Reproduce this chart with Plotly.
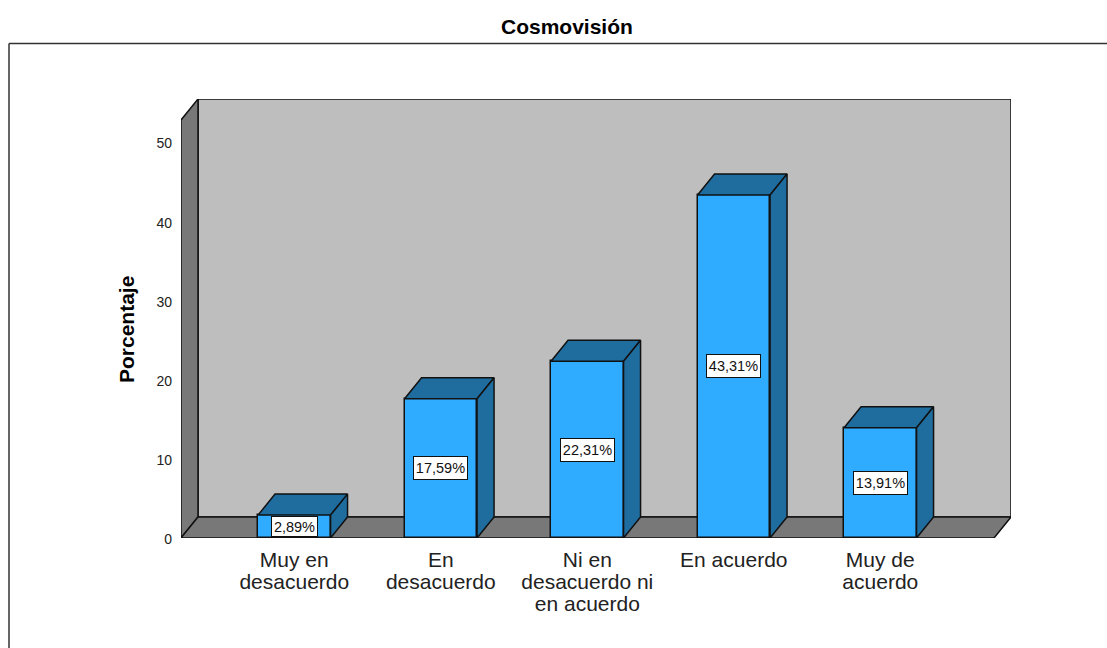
import plotly.graph_objects as go

categories = ["Muy en<br>desacuerdo", "En<br>desacuerdo", "Ni en<br>desacuerdo ni<br>en acuerdo", "En acuerdo", "Muy de<br>acuerdo"]
values = [2.89, 17.59, 22.31, 43.31, 13.91]
labels = ["2,89%", "17,59%", "22,31%", "43,31%", "13,91%"]
y_ticks = [0, 10, 20, 30, 40, 50]

FRONT = "#2FABFF"
DARK = "#1F6C9F"
WALL = "#787878"
BACK = "#BEBEBE"
LINE = "#111111"

W, H = 1107, 648
L, R, T, B = 181, 96, 99, 110
PX_X = 146.5
PX_Y = 7.92
x0 = 294.3
bar_w = 72.5 / PX_X
dx = 17 / PX_X
dy = 21 / PX_Y
xmin = (L - x0) / PX_X
xmax = (W - R - x0) / PX_X
ymax = (H - B - T) / PX_Y
xs = list(range(len(values)))
px = lambda v: (v - L) / (W - L - R)
py = lambda v: (H - B - v) / (H - T - B)


def path(pts):
    return "M " + " L ".join(f"{a},{b}" for a, b in pts) + " Z"


fig = go.Figure()

# Front faces
fig.add_trace(go.Bar(x=xs, y=values, width=bar_w, marker=dict(color=FRONT, line=dict(color=LINE, width=1.5)),
                     hoverinfo="skip", showlegend=False))

# Top and side faces
for x, v in zip(xs, values):
    a, b = x - bar_w / 2, x + bar_w / 2
    fig.add_trace(go.Scatter(x=[a, a + dx, b + dx, b, a], y=[v, v + dy, v + dy, v, v], mode="lines", fill="toself",
                             fillcolor=DARK, line=dict(color=LINE, width=1.5), hoverinfo="skip", showlegend=False))
    fig.add_trace(go.Scatter(x=[b, b + dx, b + dx, b, b], y=[0, dy, v + dy, v, 0], mode="lines", fill="toself",
                             fillcolor=DARK, line=dict(color=LINE, width=1.5), hoverinfo="skip", showlegend=False))

# Walls and floor
wall_line = dict(color=LINE, width=1.5)
shapes = [
    dict(type="path", layer="below", xref="x", yref="y", fillcolor=BACK, line=wall_line,
         path=path([(xmin + dx, dy), (xmin + dx, ymax), (xmax, ymax), (xmax, dy)])),
    dict(type="path", layer="below", xref="x", yref="y", fillcolor=WALL, line=wall_line,
         path=path([(xmin, 0), (xmin + dx, dy), (xmin + dx, ymax), (xmin, ymax - dy)])),
    dict(type="path", layer="below", xref="x", yref="y", fillcolor=WALL, line=wall_line,
         path=path([(xmin, 0), (xmin + dx, dy), (xmax, dy), (xmax - dx, 0)])),
    dict(type="line", xref="paper", yref="paper", line=dict(color="#333333", width=1.5),
         x0=px(9), x1=px(W), y0=py(43.5), y1=py(43.5)),
    dict(type="line", xref="paper", yref="paper", line=dict(color="#333333", width=1.5),
         x0=px(9), x1=px(9), y0=py(43.5), y1=py(H)),
]

annotations = [
    dict(x=x, y=v / 2, text=t, showarrow=False, bgcolor="white", bordercolor=LINE, borderwidth=1,
         width=51 if len(t) > 5 else 43, height=20 if v > 5 else 17,
         font=dict(size=14.5, color="#111111", family="Liberation Sans"))
    for x, v, t in zip(xs, values, labels)
]
annotations.append(dict(xref="paper", yref="paper", x=px(126), y=py(330), xanchor="center", yanchor="middle",
                        text="<b>Porcentaje</b>", textangle=-90, showarrow=False,
                        font=dict(size=21, color="black", family="Liberation Sans")))
annotations.append(dict(xref="paper", yref="paper", x=px(567), y=py(27), xanchor="center", yanchor="middle",
                        text="<b>Cosmovisión</b>", showarrow=False,
                        font=dict(size=21, color="black", family="Liberation Sans")))

fig.update_layout(
    width=W, height=H, margin=dict(l=L, r=R, t=T, b=B, pad=0),
    paper_bgcolor="white", plot_bgcolor="rgba(0,0,0,0)", showlegend=False, bargap=0,
    shapes=shapes, annotations=annotations,
    font=dict(family="Liberation Sans", color="#222222"),
    xaxis=dict(range=[xmin, xmax], tickmode="array", tickvals=xs, ticktext=categories, tickangle=0,
               showgrid=False, zeroline=False, showline=False, ticks="", ticklabelstandoff=7,
               tickfont=dict(size=21, family="Liberation Sans", color="#222222")),
    yaxis=dict(range=[0, ymax], tickmode="array", tickvals=y_ticks, showgrid=False, zeroline=False,
               showline=False, ticks="", ticklabelstandoff=8,
               tickfont=dict(size=14, family="Liberation Sans", color="#222222")),
)

# Tighter line spacing of the multi-line category labels, small nudge of the y labels, as in the reference
post = """
document.body.style.margin='0';
function tighten(){
  document.querySelectorAll('.xtick text').forEach(function(t){
    t.querySelectorAll('tspan.line').forEach(function(s,i){ s.setAttribute('dy',(i*1.05)+'em'); });
  });
  document.querySelectorAll('.ytick text').forEach(function(t){ t.setAttribute('dy','1.5'); });
}
tighten(); setTimeout(tighten,0); setTimeout(tighten,100);
"""
fig.write_html("out.html", post_script=post, config={"displayModeBar": False})
